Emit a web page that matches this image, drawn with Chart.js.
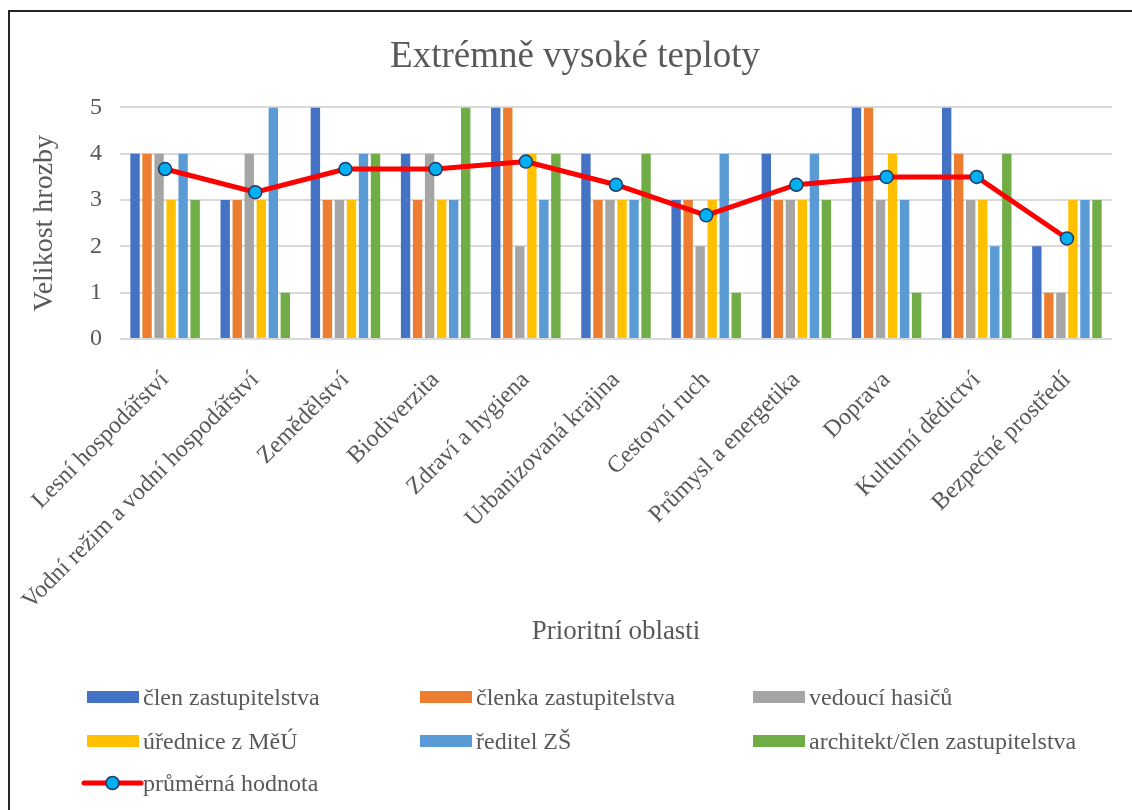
<!DOCTYPE html>
<html>
<head>
<meta charset="utf-8">
<script src="https://cdn.jsdelivr.net/npm/chart.js@4.4.1/dist/chart.umd.min.js"></script>
<style>
  html, body { margin: 0; padding: 0; background: #fff; }
  body { width: 1132px; height: 810px; position: relative; overflow: hidden; }
  #frame { position: absolute; left: 8px; top: 10px; width: 1140px; height: 820px;
           border: 2px solid #262626; box-sizing: border-box; }
  #wrap { position: absolute; left: 0; top: 0; width: 1132px; height: 810px; }
</style>
</head>
<body>
<div id="frame"></div>
<div id="wrap"><canvas id="chart" width="1132" height="810"></canvas></div>
<script>
// Prioritní oblasti (categories on the x axis)
const categories = [
  'Lesní hospodářství',
  'Vodní režim a vodní hospodářství',
  'Zemědělství',
  'Biodiverzita',
  'Zdraví a hygiena',
  'Urbanizovaná krajina',
  'Cestovní ruch',
  'Průmysl a energetika',
  'Doprava',
  'Kulturní dědictví',
  'Bezpečné prostředí'
];

// Threat ratings given by each respondent
const clenZastupitelstva   = [4, 3, 5, 4, 5, 4, 3, 4, 5, 5, 2];
const clenkaZastupitelstva = [4, 3, 3, 3, 5, 3, 3, 3, 5, 4, 1];
const vedouciHasicu        = [4, 4, 3, 4, 2, 3, 2, 3, 3, 3, 1];
const uredniceMeU          = [3, 3, 3, 3, 4, 3, 3, 3, 4, 3, 3];
const reditelZS            = [4, 5, 4, 3, 3, 3, 4, 4, 3, 2, 3];
const architekt            = [3, 1, 4, 5, 4, 4, 1, 3, 1, 4, 3];

// Average rating per area
const prumernaHodnota = [3.67, 3.17, 3.67, 3.67, 3.83, 3.33, 2.67, 3.33, 3.5, 3.5, 2.17];

// Value axis ticks
const yTicks = [0, 1, 2, 3, 4, 5];

const TEXT = '#595959';
const FONT = '"Liberation Serif", "Times New Roman", serif';

function barSet(label, data, color) {
  return {
    type: 'bar', label, data,
    backgroundColor: color, borderWidth: 0,
    categoryPercentage: 0.8, barPercentage: 0.78, order: 1
  };
}

const datasets = [
  barSet('člen zastupitelstva', clenZastupitelstva, '#4472C4'),
  barSet('členka zastupitelstva', clenkaZastupitelstva, '#ED7D31'),
  barSet('vedoucí hasičů', vedouciHasicu, '#A5A5A5'),
  barSet('úřednice z MěÚ', uredniceMeU, '#FFC000'),
  barSet('ředitel ZŠ', reditelZS, '#5B9BD5'),
  barSet('architekt/člen zastupitelstva', architekt, '#70AD47'),
  {
    type: 'line', label: 'průměrná hodnota', data: prumernaHodnota,
    borderColor: '#FF0000', borderWidth: 5, tension: 0,
    pointRadius: 6.5, pointHoverRadius: 6.5,
    pointBackgroundColor: '#00B0F0', pointBorderColor: '#1F3864', pointBorderWidth: 1.5,
    order: 0
  }
];

// Three-column legend drawn under the axis title
const legendCols = [87, 420, 753];
const legendRows = [697, 741, 783];
const gridLegend = {
  id: 'gridLegend',
  afterDraw(chart) {
    const ctx = chart.ctx;
    ctx.save();
    ctx.font = '24px ' + FONT;
    ctx.textBaseline = 'middle';
    ctx.textAlign = 'left';
    chart.data.datasets.forEach((ds, i) => {
      const x = legendCols[i % 3];
      const y = legendRows[Math.floor(i / 3)];
      let textX;
      if (ds.type === 'line') {
        const x0 = x - 3, x1 = x + 54;
        ctx.strokeStyle = ds.borderColor;
        ctx.lineWidth = 5;
        ctx.lineCap = 'round';
        ctx.beginPath();
        ctx.moveTo(x0, y);
        ctx.lineTo(x1, y);
        ctx.stroke();
        ctx.beginPath();
        ctx.arc((x0 + x1) / 2, y, 6.5, 0, Math.PI * 2);
        ctx.fillStyle = ds.pointBackgroundColor;
        ctx.fill();
        ctx.lineWidth = ds.pointBorderWidth;
        ctx.strokeStyle = ds.pointBorderColor;
        ctx.stroke();
        textX = x1 + 2;
      } else {
        ctx.fillStyle = ds.backgroundColor;
        ctx.fillRect(x, y - 6, 52, 12);
        textX = x + 56;
      }
      ctx.fillStyle = TEXT;
      ctx.fillText(ds.label, textX, y + 2);
    });
    ctx.restore();
  }
};

const chart = new Chart(document.getElementById('chart'), {
  data: { labels: categories, datasets },
  plugins: [gridLegend],
  options: {
    responsive: false,
    animation: false,
    devicePixelRatio: 1,
    layout: { padding: { left: 38, right: 20, top: 0, bottom: 150 } },
    plugins: {
      legend: { display: false },
      tooltip: { enabled: false },
      title: {
        display: true,
        text: 'Extrémně vysoké teploty',
        color: TEXT,
        font: { family: FONT, size: 37, weight: 'normal', lineHeight: 1.2 },
        padding: { top: 35, bottom: 28 }
      }
    },
    scales: {
      x: {
        grid: { display: false },
        border: { display: false },
        ticks: {
          color: TEXT, autoSkip: false, maxRotation: 45, minRotation: 45, padding: 19,
          font: { family: FONT, size: 24 }
        },
        title: {
          display: true, text: 'Prioritní oblasti', color: TEXT,
          font: { family: FONT, size: 27, lineHeight: 1.2 },
          padding: { top: 12, bottom: 12 }
        },
        afterFit: s => { s.height = 321; }
      },
      y: {
        min: 0, max: 5,
        grid: { color: '#d9d9d9', lineWidth: 2, drawTicks: false },
        border: { display: false },
        afterBuildTicks: s => { s.ticks = yTicks.map(v => ({ value: v })); },
        ticks: { color: TEXT, padding: 18, font: { family: FONT, size: 24 } },
        title: {
          display: true, text: 'Velikost hrozby', color: TEXT,
          font: { family: FONT, size: 28, lineHeight: 1.2 },
          padding: { top: -10, bottom: 0 }
        },
        afterFit: s => { s.width = 82; }
      }
    }
  }
});
</script>
</body>
</html>
